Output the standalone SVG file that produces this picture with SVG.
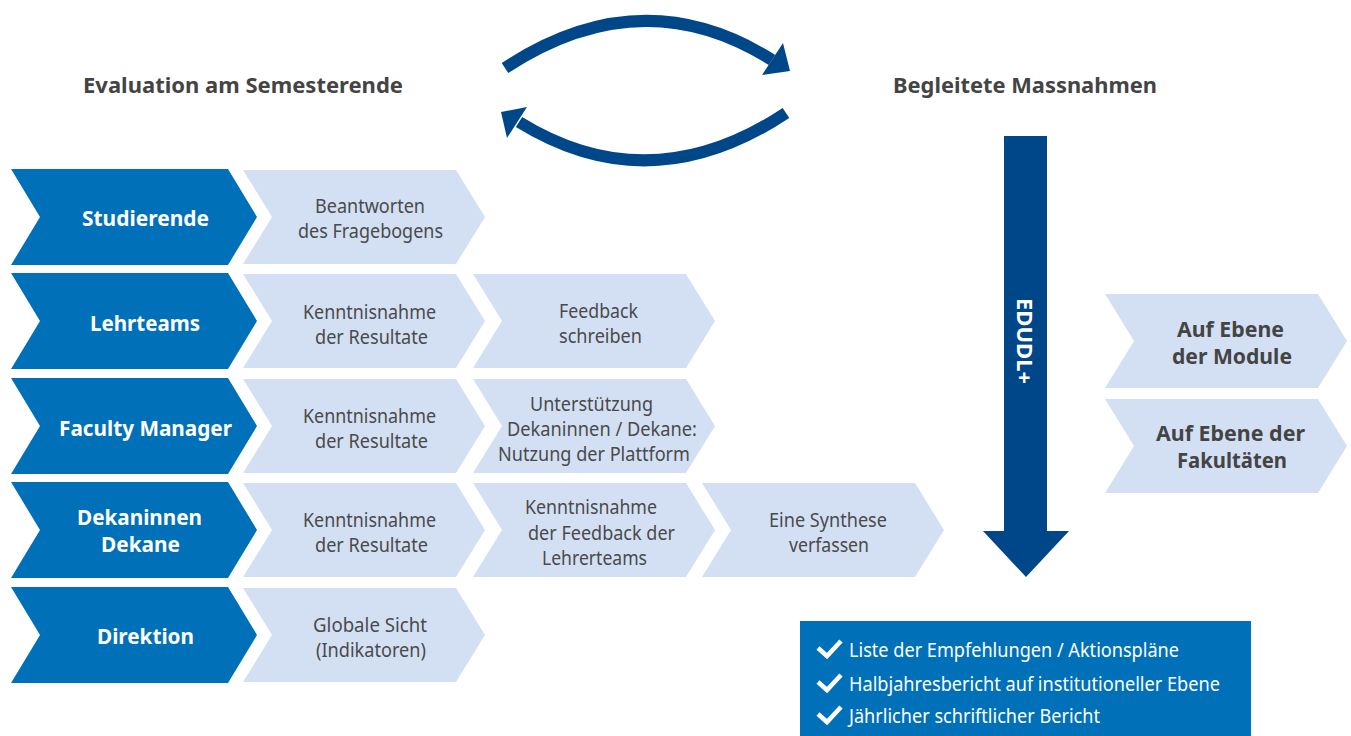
<svg xmlns="http://www.w3.org/2000/svg" width="1351" height="736" viewBox="0 0 1351 736">
<defs>
<style>
.dark{fill:#0070b9}
.light{fill:#d3e0f4}
.navy{fill:#00478a}
.t{font-family:"Noto Sans","Open Sans","Liberation Sans",sans-serif;}
.title{font-size:22px;font-weight:bold;fill:#444444}
.lbl{font-size:21.5px;font-weight:bold;fill:#ffffff}
.txt{font-size:20px;fill:#4a4a4a}
.rb{font-size:21.5px;font-weight:bold;fill:#444444}
.bt{font-size:20.5px;fill:#ffffff}
.chk{fill:none;stroke:#ffffff;stroke-width:4.5;stroke-linejoin:miter}
</style>
<path id="dchev" d="M0,0 L217,0 L246,48 L217,96 L0,96 L29,48 Z"/>
<path id="lchev" d="M0,0 L213,0 L242,47 L213,94 L0,94 L29,47 Z"/>
</defs>
<rect width="1351" height="736" fill="#ffffff"/>

<g id="titles" class="t">
<text class="title" x="83" y="93" textLength="320" lengthAdjust="spacingAndGlyphs">Evaluation am Semesterende</text>
<text class="title" x="893" y="93" textLength="264" lengthAdjust="spacingAndGlyphs">Begleitete Massnahmen</text>
</g>

<g id="connectors">
<path d="M505,68 Q642,-22 772,60" fill="none" stroke="#00478a" stroke-width="12"/>
<polygon class="navy" points="783,43 790,71 762,75"/>
<path d="M786,113 Q650,203 519,122" fill="none" stroke="#00478a" stroke-width="12"/>
<polygon class="navy" points="527,107 501,112 507,138"/>
</g>

<g id="row-studierende">
<use href="#dchev" class="dark" x="11" y="169"/>
<text class="t lbl" x="82" y="226" textLength="127" lengthAdjust="spacingAndGlyphs">Studierende</text>
</g>
<g id="row-lehrteams">
<use href="#dchev" class="dark" x="11" y="273"/>
<text class="t lbl" x="90" y="331" textLength="110" lengthAdjust="spacingAndGlyphs">Lehrteams</text>
</g>
<g id="row-faculty">
<use href="#dchev" class="dark" x="11" y="378"/>
<text class="t lbl" x="59" y="436" textLength="173" lengthAdjust="spacingAndGlyphs">Faculty Manager</text>
</g>
<g id="row-dekane">
<use href="#dchev" class="dark" x="11" y="482"/>
<text class="t lbl" x="77" y="525" textLength="125" lengthAdjust="spacingAndGlyphs">Dekaninnen</text>
<text class="t lbl" x="101" y="552" textLength="79" lengthAdjust="spacingAndGlyphs">Dekane</text>
</g>
<g id="row-direktion">
<use href="#dchev" class="dark" x="11" y="587"/>
<text class="t lbl" x="97" y="644" textLength="97" lengthAdjust="spacingAndGlyphs">Direktion</text>
</g>

<g id="step-beantworten">
<use href="#lchev" class="light" x="243" y="170"/>
<text class="t txt" x="315" y="213" textLength="110" lengthAdjust="spacingAndGlyphs">Beantworten</text>
<text class="t txt" x="298" y="238" textLength="145" lengthAdjust="spacingAndGlyphs">des Fragebogens</text>
</g>
<g id="step-lehrteams-kenntnis">
<use href="#lchev" class="light" x="243" y="274"/>
<text class="t txt" x="303" y="319" textLength="133" lengthAdjust="spacingAndGlyphs">Kenntnisnahme</text>
<text class="t txt" x="315" y="344" textLength="113" lengthAdjust="spacingAndGlyphs">der Resultate</text>
</g>
<g id="step-feedback">
<use href="#lchev" class="light" x="473" y="274"/>
<text class="t txt" x="559" y="318" textLength="79" lengthAdjust="spacingAndGlyphs">Feedback</text>
<text class="t txt" x="559" y="343" textLength="83" lengthAdjust="spacingAndGlyphs">schreiben</text>
</g>
<g id="step-faculty-kenntnis">
<use href="#lchev" class="light" x="243" y="379"/>
<text class="t txt" x="303" y="423" textLength="133" lengthAdjust="spacingAndGlyphs">Kenntnisnahme</text>
<text class="t txt" x="315" y="448" textLength="113" lengthAdjust="spacingAndGlyphs">der Resultate</text>
</g>
<g id="step-unterstuetzung">
<use href="#lchev" class="light" x="473" y="379"/>
<text class="t txt" x="530" y="411" textLength="123" lengthAdjust="spacingAndGlyphs">Unterstützung</text>
<text class="t txt" x="507" y="436" textLength="190" lengthAdjust="spacingAndGlyphs">Dekaninnen / Dekane:</text>
<text class="t txt" x="498" y="461" textLength="192" lengthAdjust="spacingAndGlyphs">Nutzung der Plattform</text>
</g>
<g id="step-dekane-kenntnis">
<use href="#lchev" class="light" x="243" y="483"/>
<text class="t txt" x="303" y="527" textLength="133" lengthAdjust="spacingAndGlyphs">Kenntnisnahme</text>
<text class="t txt" x="315" y="552" textLength="113" lengthAdjust="spacingAndGlyphs">der Resultate</text>
</g>
<g id="step-feedback-kenntnis">
<use href="#lchev" class="light" x="473" y="483"/>
<text class="t txt" x="525" y="514" textLength="132" lengthAdjust="spacingAndGlyphs">Kenntnisnahme</text>
<text class="t txt" x="528" y="540" textLength="147" lengthAdjust="spacingAndGlyphs">der Feedback der</text>
<text class="t txt" x="542" y="565" textLength="105" lengthAdjust="spacingAndGlyphs">Lehrerteams</text>
</g>
<g id="step-synthese">
<use href="#lchev" class="light" x="702" y="483"/>
<text class="t txt" x="769" y="527" textLength="118" lengthAdjust="spacingAndGlyphs">Eine Synthese</text>
<text class="t txt" x="789" y="552" textLength="80" lengthAdjust="spacingAndGlyphs">verfassen</text>
</g>
<g id="step-globale">
<use href="#lchev" class="light" x="243" y="588"/>
<text class="t txt" x="313" y="632" textLength="114" lengthAdjust="spacingAndGlyphs">Globale Sicht</text>
<text class="t txt" x="316" y="657" textLength="110" lengthAdjust="spacingAndGlyphs">(Indikatoren)</text>
</g>

<g id="edudl">
<path class="navy" d="M1004,136 L1047,136 L1047,531 L1069,531 L1026,577 L983,531 L1004,531 Z"/>
<text class="t lbl" transform="translate(1017,298) rotate(90)" x="0" y="0" textLength="86" lengthAdjust="spacingAndGlyphs">EDUDL+</text>
</g>

<g id="ebene-module">
<use href="#lchev" class="light" x="1105" y="294"/>
<text class="t rb" x="1177" y="337" textLength="107" lengthAdjust="spacingAndGlyphs">Auf Ebene</text>
<text class="t rb" x="1172" y="364" textLength="120" lengthAdjust="spacingAndGlyphs">der Module</text>
</g>
<g id="ebene-fakultaeten">
<use href="#lchev" class="light" x="1105" y="399"/>
<text class="t rb" x="1156" y="441" textLength="149" lengthAdjust="spacingAndGlyphs">Auf Ebene der</text>
<text class="t rb" x="1177" y="468" textLength="110" lengthAdjust="spacingAndGlyphs">Fakultäten</text>
</g>

<g id="ergebnisse">
<rect class="dark" x="800" y="621" width="451" height="120"/>
<path class="chk" d="M818,648 L827,656 L841,641"/>
<path class="chk" d="M818,682 L827,690 L841,675"/>
<path class="chk" d="M818,714 L827,722 L841,707"/>
<text class="t bt" x="849" y="657" textLength="330" lengthAdjust="spacingAndGlyphs">Liste der Empfehlungen / Aktionspläne</text>
<text class="t bt" x="849" y="691" textLength="371" lengthAdjust="spacingAndGlyphs">Halbjahresbericht auf institutioneller Ebene</text>
<text class="t bt" x="849" y="723" textLength="251" lengthAdjust="spacingAndGlyphs">Jährlicher schriftlicher Bericht</text>
</g>
</svg>
